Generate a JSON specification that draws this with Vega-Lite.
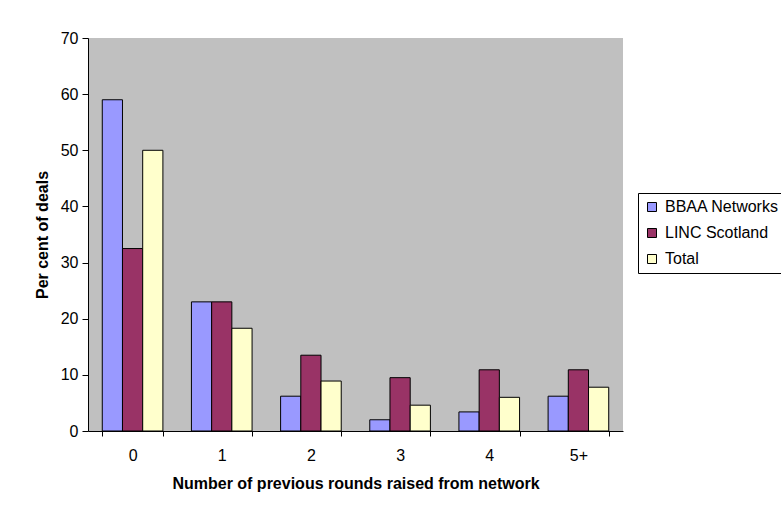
{
  "$schema": "https://vega.github.io/schema/vega-lite/v6.json",
  "description": "Per cent of deals by number of previous rounds raised from network",
  "width": 535,
  "height": 393,
  "autosize": {"type": "none"},
  "padding": {"left": 88, "top": 38, "right": 158, "bottom": 79},
  "background": "white",
  "config": {
    "font": "Liberation Sans",
    "view": {"fill": "#C0C0C0", "stroke": null}
  },
  "data": {
    "values": [
      {"rounds": "0", "series": "BBAA Networks", "pct": 59.0},
      {"rounds": "0", "series": "LINC Scotland", "pct": 32.5},
      {"rounds": "0", "series": "Total", "pct": 50.0},
      {"rounds": "1", "series": "BBAA Networks", "pct": 23.0},
      {"rounds": "1", "series": "LINC Scotland", "pct": 23.0},
      {"rounds": "1", "series": "Total", "pct": 18.3},
      {"rounds": "2", "series": "BBAA Networks", "pct": 6.2},
      {"rounds": "2", "series": "LINC Scotland", "pct": 13.5},
      {"rounds": "2", "series": "Total", "pct": 8.9},
      {"rounds": "3", "series": "BBAA Networks", "pct": 2.0},
      {"rounds": "3", "series": "LINC Scotland", "pct": 9.5},
      {"rounds": "3", "series": "Total", "pct": 4.6},
      {"rounds": "4", "series": "BBAA Networks", "pct": 3.4},
      {"rounds": "4", "series": "LINC Scotland", "pct": 10.9},
      {"rounds": "4", "series": "Total", "pct": 6.0},
      {"rounds": "5+", "series": "BBAA Networks", "pct": 6.2},
      {"rounds": "5+", "series": "LINC Scotland", "pct": 10.9},
      {"rounds": "5+", "series": "Total", "pct": 7.8}
    ]
  },
  "mark": {"type": "bar", "stroke": "black", "strokeWidth": 1},
  "encoding": {
    "x": {
      "field": "rounds",
      "type": "nominal",
      "sort": ["0", "1", "2", "3", "4", "5+"],
      "scale": {"paddingInner": 0.32, "paddingOuter": 0.16},
      "axis": {
        "title": "Number of previous rounds raised from network",
        "titleFontWeight": "bold",
        "titleFontSize": 16,
        "titleColor": "black",
        "titlePadding": 12,
        "labelAngle": 0,
        "labelFontSize": 16,
        "labelPadding": 11,
        "labelColor": "black",
        "tickBand": "extent",
        "tickSize": 5,
        "domainColor": "black",
        "tickColor": "black"
      }
    },
    "xOffset": {
      "field": "series",
      "sort": ["BBAA Networks", "LINC Scotland", "Total"]
    },
    "y": {
      "field": "pct",
      "type": "quantitative",
      "scale": {"domain": [0, 70]},
      "axis": {
        "title": "Per cent of deals",
        "titleFontWeight": "bold",
        "titleFontSize": 16,
        "titleColor": "black",
        "titlePadding": 10,
        "values": [0, 10, 20, 30, 40, 50, 60, 70],
        "grid": false,
        "labelFontSize": 16,
        "labelPadding": 4,
        "labelColor": "black",
        "tickSize": 6,
        "domainColor": "black",
        "tickColor": "black"
      }
    },
    "color": {
      "field": "series",
      "type": "nominal",
      "sort": ["BBAA Networks", "LINC Scotland", "Total"],
      "scale": {
        "domain": ["BBAA Networks", "LINC Scotland", "Total"],
        "range": ["#9999FF", "#993366", "#FFFFCC"]
      },
      "legend": {
        "title": null,
        "orient": "none",
        "legendX": 550,
        "legendY": 155,
        "strokeColor": "black",
        "fillColor": "white",
        "padding": 6,
        "rowPadding": 10,
        "symbolType": "square",
        "symbolSize": 81,
        "symbolStrokeColor": "black",
        "symbolStrokeWidth": 1,
        "labelOffset": 5,
        "labelFontSize": 16,
        "labelColor": "black"
      }
    }
  }
}
